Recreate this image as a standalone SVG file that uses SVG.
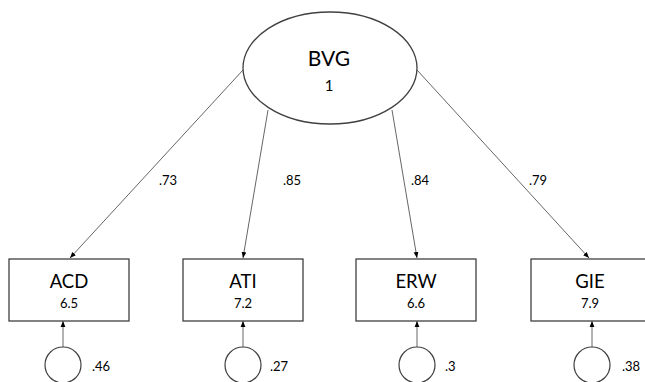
<svg xmlns="http://www.w3.org/2000/svg" width="645" height="382" viewBox="0 0 645 382">
<defs>
<marker id="arr" viewBox="0 0 10 10" refX="10" refY="5" markerWidth="6" markerHeight="6" orient="auto" markerUnits="userSpaceOnUse">
<path d="M0,1 L10,5 L0,9 Z" fill="#000"/>
</marker>
<style>
.box{fill:#fff;stroke:#404040;stroke-width:1.3}
.ell{fill:#fff;stroke:#404040;stroke-width:1.3}
.circ{fill:#fff;stroke:#404040;stroke-width:1.2}
.conn{stroke:#555;stroke-width:0.9;fill:none;marker-end:url(#arr)}
text{font-family:Lato,"Open Sans","Liberation Sans",sans-serif;fill:#000}
.big{font-size:18.5px;text-anchor:middle}
.small{font-size:13px;text-anchor:middle}
.lbl{font-size:13px}
</style>
</defs>
<rect width="645" height="382" fill="#fff"/>
<g id="connectors">
<line class="conn" x1="243" y1="70" x2="70" y2="258"/>
<line class="conn" x1="268" y1="110" x2="243" y2="258"/>
<line class="conn" x1="392" y1="110" x2="417" y2="258"/>
<line class="conn" x1="417" y1="70" x2="589" y2="258"/>
<line class="conn" x1="63" y1="347" x2="63" y2="321"/>
<line class="conn" x1="243" y1="347" x2="243" y2="321"/>
<line class="conn" x1="417" y1="347" x2="417" y2="321"/>
<line class="conn" x1="592" y1="347" x2="592" y2="321"/>
<text class="lbl" x="159" y="185">.73</text>
<text class="lbl" x="283" y="185">.85</text>
<text class="lbl" x="411" y="185">.84</text>
<text class="lbl" x="529" y="185">.79</text>
</g>
<g id="BVG">
<ellipse class="ell" cx="330" cy="68" rx="87" ry="56"/>
<text x="329" y="66" style="font-size:21px;text-anchor:middle">BVG</text>
<text x="329" y="91" style="font-size:15px;text-anchor:middle">1</text>
</g>
<g id="ACD">
<rect class="box" x="9" y="259" width="120" height="62"/>
<text class="big" x="69" y="288">ACD</text>
<text class="small" x="69" y="308">6.5</text>
</g>
<g id="ATI">
<rect class="box" x="183" y="259" width="120" height="62"/>
<text class="big" x="243" y="288">ATI</text>
<text class="small" x="243" y="308">7.2</text>
</g>
<g id="ERW">
<rect class="box" x="356" y="259" width="120" height="62"/>
<text class="big" x="416" y="288">ERW</text>
<text class="small" x="416" y="308">6.6</text>
</g>
<g id="GIE">
<rect class="box" x="531" y="259" width="120" height="62"/>
<text class="big" x="590" y="288">GIE</text>
<text class="small" x="590" y="308">7.9</text>
</g>
<g id="e_ACD">
<circle class="circ" cx="63" cy="365" r="18"/>
<text class="lbl" x="92" y="371">.46</text>
</g>
<g id="e_ATI">
<circle class="circ" cx="243" cy="365" r="18"/>
<text class="lbl" x="270" y="371">.27</text>
</g>
<g id="e_ERW">
<circle class="circ" cx="417" cy="365" r="18"/>
<text class="lbl" x="445" y="371">.3</text>
</g>
<g id="e_GIE">
<circle class="circ" cx="592" cy="365" r="18"/>
<text class="lbl" x="622" y="371">.38</text>
</g>
</svg>
